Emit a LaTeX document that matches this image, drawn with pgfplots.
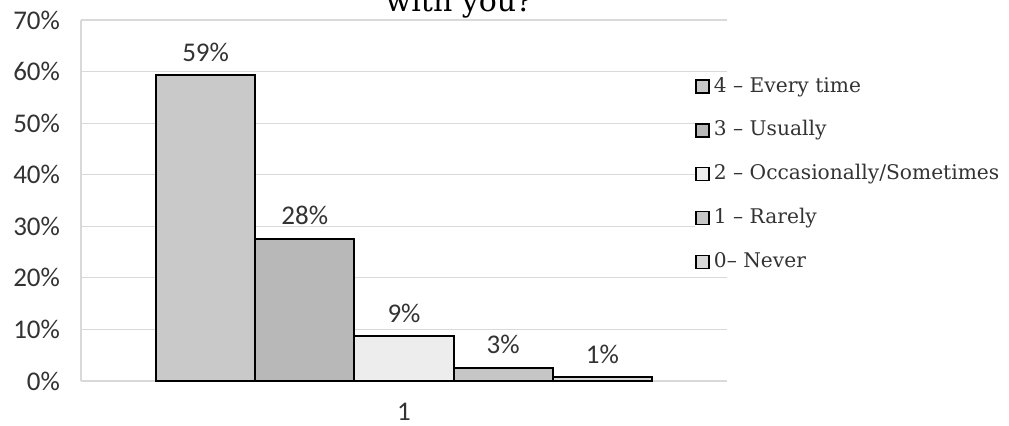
\documentclass[border=0pt]{standalone}
\usepackage{pgfplots}
\pgfplotsset{compat=1.18}
\usepackage{fontspec}
\setmainfont{DejaVu Serif}
\newfontfamily\carlito{Carlito}

\definecolor{txt}{HTML}{333333}
\definecolor{gridc}{HTML}{D9D9D9}
\definecolor{barA}{HTML}{C9C9C9}
\definecolor{barB}{HTML}{B8B8B8}
\definecolor{barC}{HTML}{EDEDED}
\definecolor{barD}{HTML}{C6C6C6}
\definecolor{barE}{HTML}{D9D9D9}

\begin{document}
\begin{tikzpicture}
% title (only its lower part is inside the picture)
\node[font=\fontsize{15}{18}\selectfont, anchor=base] at (229.5pt,-5.5pt) {with you?};

\begin{axis}[
  at={(40.5pt,-190.5pt)}, anchor=south west,
  width=323pt, height=180.5pt, scale only axis,
  ybar=0pt, bar width=49.6pt,
  xmin=0, xmax=2, ymin=0, ymax=70,
  xtick={1}, xticklabels={1},
  ytick={0,10,...,70},
  /pgf/number format/assume math mode=true,
  yticklabel={\pgfmathprintnumber{\tick}\%},
  major tick length=0pt,
  axis line style={draw=none},
  ymajorgrids, grid style={gridc, line width=0.6pt},
  extra x ticks={0}, extra x tick labels={},
  extra x tick style={grid=major},
  ticklabel style={font=\carlito\fontsize{13.5}{16}\selectfont, text=txt},
  yticklabel style={xshift=-7pt},
  xticklabel style={yshift=-7.5pt},
  nodes near coords={\pgfmathprintnumber[fixed,precision=0]{\pgfplotspointmeta}\%},
  every node near coord/.append style={anchor=center, yshift=11.5pt,
    font=\carlito\fontsize{13.5}{16}\selectfont, text=txt},
  legend image code/.code={\draw[#1, draw=black, line width=0.75pt] (0pt,-3.25pt) rectangle (6.5pt,3.25pt);},
  legend style={at={(axis description cs:0.9505,0.8457)}, anchor=north west,
    draw=none, fill=white, inner sep=0pt, row sep=11.4pt, column sep=2pt,
    font=\fontsize{10.1}{12}\selectfont, text=txt,
    nodes={inner sep=0pt, text height=8pt, text depth=2.5pt},
    cells={anchor=west}},
]
\addplot[draw=black, line width=1pt, fill=barA] coordinates {(1,59.3)};
\addplot[draw=black, line width=1pt, fill=barB] coordinates {(1,27.6)};
\addplot[draw=black, line width=1pt, fill=barC] coordinates {(1,8.7)};
\addplot[draw=black, line width=1pt, fill=barD] coordinates {(1,2.6)};
\addplot[draw=black, line width=1pt, fill=barE] coordinates {(1,0.7)};
\legend{4 -- Every time, 3 -- Usually, 2 -- Occasionally/Sometimes, 1 -- Rarely, 0-- Never}
\end{axis}

\pgfresetboundingbox
\useasboundingbox (0pt,0pt) rectangle (504.5pt,-212.5pt);
\end{tikzpicture}
\end{document}
